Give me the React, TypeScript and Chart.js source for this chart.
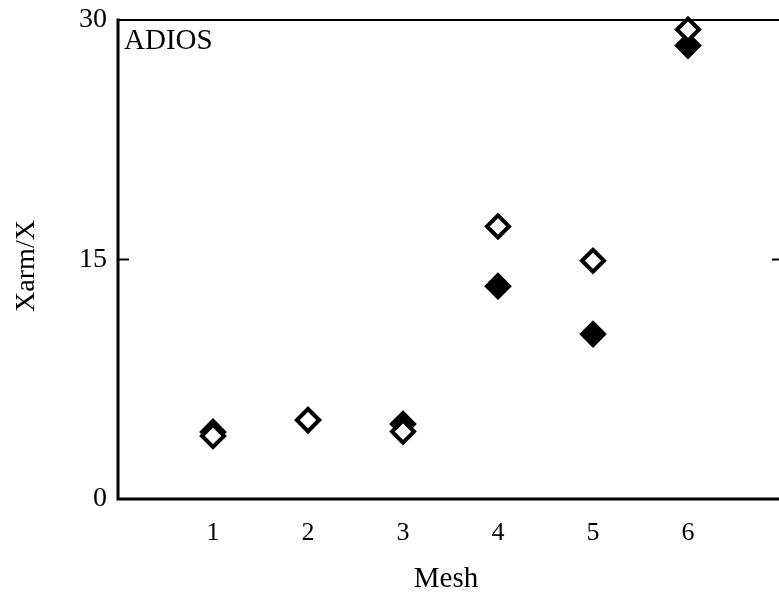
import { useEffect, useRef } from "react";
import { Chart, registerables } from "chart.js";

Chart.register(...registerables);

// Mesh index on the horizontal axis
const meshes = [1, 2, 3, 4, 5, 6];
// Open diamonds
const openValues = [3.95, 4.94, 4.22, 17.07, 14.92, 29.4];
// Filled diamonds
const filledValues = [4.2, 4.94, 4.7, 13.33, 10.33, 28.4];

const xTicks = [1, 2, 3, 4, 5, 6];
const yTicks = [0, 15, 30];
const frameTicks = [15];

const panelLabel = "ADIOS";
const xTitle = "Mesh";
const yTitle = "Xarm/X";

const SERIF = '"Liberation Serif", "Times New Roman", serif';

const framePlugin = {
  id: "frame",
  beforeDatasetsDraw(chart: any) {
    const { ctx, chartArea } = chart;
    const { left, right, top, bottom } = chartArea;
    const yScale = chart.scales.y;
    ctx.save();
    ctx.strokeStyle = "#000";
    ctx.lineCap = "square";
    // left + bottom axes
    ctx.lineWidth = 3;
    ctx.beginPath();
    ctx.moveTo(left, top);
    ctx.lineTo(left, bottom);
    ctx.lineTo(right, bottom);
    ctx.stroke();
    // top + right frame
    ctx.lineWidth = 2;
    ctx.beginPath();
    ctx.moveTo(left, top);
    ctx.lineTo(right, top);
    ctx.lineTo(right, bottom);
    ctx.stroke();
    // inward tick marks
    ctx.lineWidth = 2;
    ctx.lineCap = "butt";
    for (const v of frameTicks) {
      const py = yScale.getPixelForValue(v);
      ctx.beginPath();
      ctx.moveTo(left, py);
      ctx.lineTo(left + 11, py);
      ctx.moveTo(right, py);
      ctx.lineTo(right - 11, py);
      ctx.stroke();
    }
    ctx.restore();
  },
  afterDraw(chart: any) {
    const { ctx, chartArea } = chart;
    ctx.save();
    ctx.fillStyle = "#000";
    ctx.textBaseline = "alphabetic";
    // panel label
    ctx.font = `29px ${SERIF}`;
    ctx.textAlign = "left";
    ctx.fillText(panelLabel, chartArea.left + 6, chartArea.top + 29);
    // x axis title
    ctx.font = `29px ${SERIF}`;
    ctx.textAlign = "center";
    ctx.fillText(xTitle, 446, 587);
    // y axis title
    ctx.font = `28px ${SERIF}`;
    ctx.translate(34, 266);
    ctx.rotate(-Math.PI / 2);
    ctx.fillText(yTitle, 0, 0);
    ctx.restore();
  },
};

export default function App() {
  const canvasRef = useRef<HTMLCanvasElement | null>(null);

  useEffect(() => {
    const canvas = canvasRef.current;
    if (!canvas) return;
    const chart = new Chart(canvas, {
      type: "scatter",
      data: {
        datasets: [
          {
            label: "open",
            data: meshes.map((m, i) => ({ x: m, y: openValues[i] })),
            pointStyle: "rectRot",
            pointRadius: 11,
            pointBorderWidth: 4,
            pointBackgroundColor: "#fff",
            pointBorderColor: "#000",
            clip: false,
          },
          {
            label: "filled",
            data: meshes.map((m, i) => ({ x: m, y: filledValues[i] })),
            pointStyle: "rectRot",
            pointRadius: 11,
            pointBorderWidth: 4,
            pointBackgroundColor: "#000",
            pointBorderColor: "#000",
            clip: false,
          },
        ],
      },
      options: {
        animation: false,
        responsive: false,
        devicePixelRatio: 1,
        layout: { padding: { left: 0, top: 20, right: 17, bottom: 0 } },
        plugins: {
          legend: { display: false },
          tooltip: { enabled: false },
        },
        scales: {
          x: {
            type: "linear",
            min: 0,
            max: 7,
            grid: { display: false },
            border: { display: false },
            afterBuildTicks: (scale: any) => {
              scale.ticks = xTicks.map((v) => ({ value: v }));
            },
            afterFit: (scale: any) => {
              scale.height = 97;
              scale.paddingLeft = 0;
              scale.paddingRight = 0;
            },
            ticks: {
              color: "#000",
              padding: 11,
              font: { family: SERIF, size: 26 },
              callback: (v: any) => String(v),
            },
          },
          y: {
            type: "linear",
            min: 0,
            max: 30,
            grid: { display: false },
            border: { display: false },
            afterBuildTicks: (scale: any) => {
              scale.ticks = yTicks.map((v) => ({ value: v }));
            },
            afterFit: (scale: any) => {
              scale.width = 118;
              scale.paddingTop = 0;
              scale.paddingBottom = 0;
            },
            ticks: {
              color: "#000",
              padding: 3,
              font: { family: SERIF, size: 28 },
              callback: (v: any) => String(v),
            },
          },
        },
      },
      plugins: [framePlugin],
    });
    return () => chart.destroy();
  }, []);

  return (
    <div
      style={{
        position: "fixed",
        left: 0,
        top: 0,
        width: 779,
        height: 596,
        overflow: "hidden",
        background: "#fff",
      }}
    >
      <canvas ref={canvasRef} width={800} height={596} style={{ width: 800, height: 596 }} />
    </div>
  );
}
